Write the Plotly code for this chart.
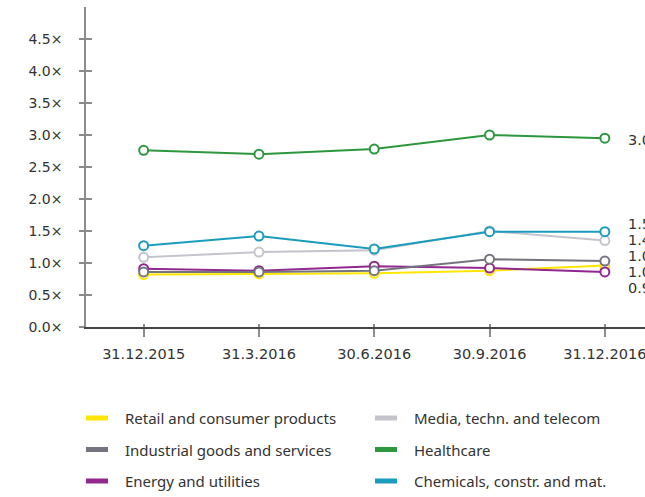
import plotly.graph_objects as go

# Quarter-end dates on the x axis
dates = ["31.12.2015", "31.3.2016", "30.6.2016", "30.9.2016", "31.12.2016"]

# Valuation multiples per sector
retail = [0.82, 0.83, 0.84, 0.88, 0.96]
media = [1.09, 1.17, 1.20, 1.50, 1.35]
industrial = [0.86, 0.86, 0.88, 1.06, 1.03]
healthcare = [2.76, 2.70, 2.78, 3.00, 2.95]
energy = [0.91, 0.88, 0.95, 0.92, 0.86]
chemicals = [1.27, 1.42, 1.22, 1.49, 1.49]

names = [
    "Retail and consumer products",
    "Media, techn. and telecom",
    "Industrial goods and services",
    "Healthcare",
    "Energy and utilities",
    "Chemicals, constr. and mat.",
]
values = [retail, media, industrial, healthcare, energy, chemicals]
colors = ["#FFE600", "#C4C4CD", "#747480", "#2C973E", "#91278F", "#1A9CBD"]

y_ticks = [0.0, 0.5, 1.0, 1.5, 2.0, 2.5, 3.0, 3.5, 4.0, 4.5]

W, H = 645, 497
ML, MR, MT, MB = 86, 0, 7, 170
plot_w = W - ML - MR
plot_h = H - MT - MB
y_max = 5.0
px_per_unit = plot_h / y_max
x_step = 115.3
x_range = [-0.5, -0.5 + plot_w / x_step]

fig = go.Figure()

# draw order so the darker lines sit on top where they overlap
draw_order = [0, 4, 2, 1, 3, 5]
for i in draw_order:
    fig.add_trace(go.Scatter(
        x=list(range(len(dates))), y=values[i], name=names[i],
        mode="lines+markers",
        line=dict(color=colors[i], width=2),
        marker=dict(symbol="circle", size=9, color="white",
                    line=dict(color=colors[i], width=2)),
        showlegend=False, hoverinfo="skip", cliponaxis=False,
    ))

# End-of-line value labels, spread so they do not overlap
last = [v[-1] for v in values]
order = sorted(range(len(last)), key=lambda k: -last[k])
pos = [(y_max - last[k]) * px_per_unit for k in order]  # pixel from top
gap = 16.0
for _ in range(400):
    moved = False
    for j in range(len(pos) - 1):
        d = pos[j + 1] - pos[j]
        if d < gap - 1e-6:
            push = (gap - d) / 2
            pos[j] -= push
            pos[j + 1] += push
            moved = True
    if not moved:
        break
for k, p in zip(order, pos):
    fig.add_annotation(
        x=len(dates) - 1, y=y_max - p / px_per_unit,
        xref="x", yref="y", text=f"{last[k]:.1f}×", showarrow=False,
        xanchor="left", yanchor="middle", xshift=21, yshift=-2,
        font=dict(family="DejaVu Sans", size=14.5, color="#333333"),
    )

# Legend laid out as two columns of three rows
col_x = [86, 375]
row_y = [418, 449.5, 481]
for n in range(len(names)):
    r, c = divmod(n, 2)
    x0 = col_x[c]
    yp = row_y[r]
    fig.add_shape(
        type="line", xref="paper", yref="paper",
        x0=(x0 - ML) / plot_w, x1=(x0 + 22 - ML) / plot_w,
        y0=(H - MB - yp) / plot_h, y1=(H - MB - yp) / plot_h,
        line=dict(color=colors[n], width=5),
    )
    fig.add_annotation(
        xref="paper", yref="paper",
        x=(x0 + 37 - ML) / plot_w, y=(H - MB - yp) / plot_h,
        text=names[n], showarrow=False, xanchor="left", yanchor="middle",
        font=dict(family="Noto Sans", size=15, color="#333333"),
    )

axis_grey = "#8C8C8C"
fig.update_layout(
    width=W, height=H,
    margin=dict(l=ML, r=MR, t=MT, b=MB),
    paper_bgcolor="white", plot_bgcolor="white",
    showlegend=False,
    xaxis=dict(
        range=x_range, tickmode="array",
        tickvals=list(range(len(dates))), ticktext=dates,
        showgrid=False, zeroline=False,
        showline=True, linecolor="#444444", linewidth=1.5,
        ticks="outside", ticklen=8, tickcolor=axis_grey, tickwidth=1.5,
        ticklabelstandoff=5, ticklabeloverflow="allow",
        tickfont=dict(family="DejaVu Sans", size=14.5, color="#333333"),
    ),
    xaxis2=dict(
        range=x_range, overlaying="x", matches="x",
        tickvals=list(range(len(dates))), showticklabels=False,
        showgrid=False, zeroline=False, showline=False,
        ticks="inside", ticklen=3, tickcolor=axis_grey, tickwidth=1.5,
    ),
    yaxis=dict(
        range=[0, y_max], tickmode="array", tickvals=y_ticks,
        ticktext=[f"{t:.1f}×" for t in y_ticks],
        showgrid=False, zeroline=False,
        showline=True, linecolor=axis_grey, linewidth=1.5,
        ticks="outside", ticklen=5, tickcolor=axis_grey, tickwidth=1.5,
        ticklabelstandoff=14,
        tickfont=dict(family="DejaVu Sans", size=14, color="#333333"),
    ),
    yaxis2=dict(
        range=[0, y_max], overlaying="y", tickvals=y_ticks,
        showticklabels=False, showgrid=False, zeroline=False,
        showline=False, ticks="inside", ticklen=6,
        tickcolor=axis_grey, tickwidth=1.5,
    ),
)

# invisible helper trace to activate the overlay axes used for crossing ticks
fig.add_trace(go.Scatter(x=[0], y=[0], xaxis="x2", yaxis="y2",
                         mode="markers", marker=dict(opacity=0),
                         showlegend=False, hoverinfo="skip"))

fig.write_html("out.html")
